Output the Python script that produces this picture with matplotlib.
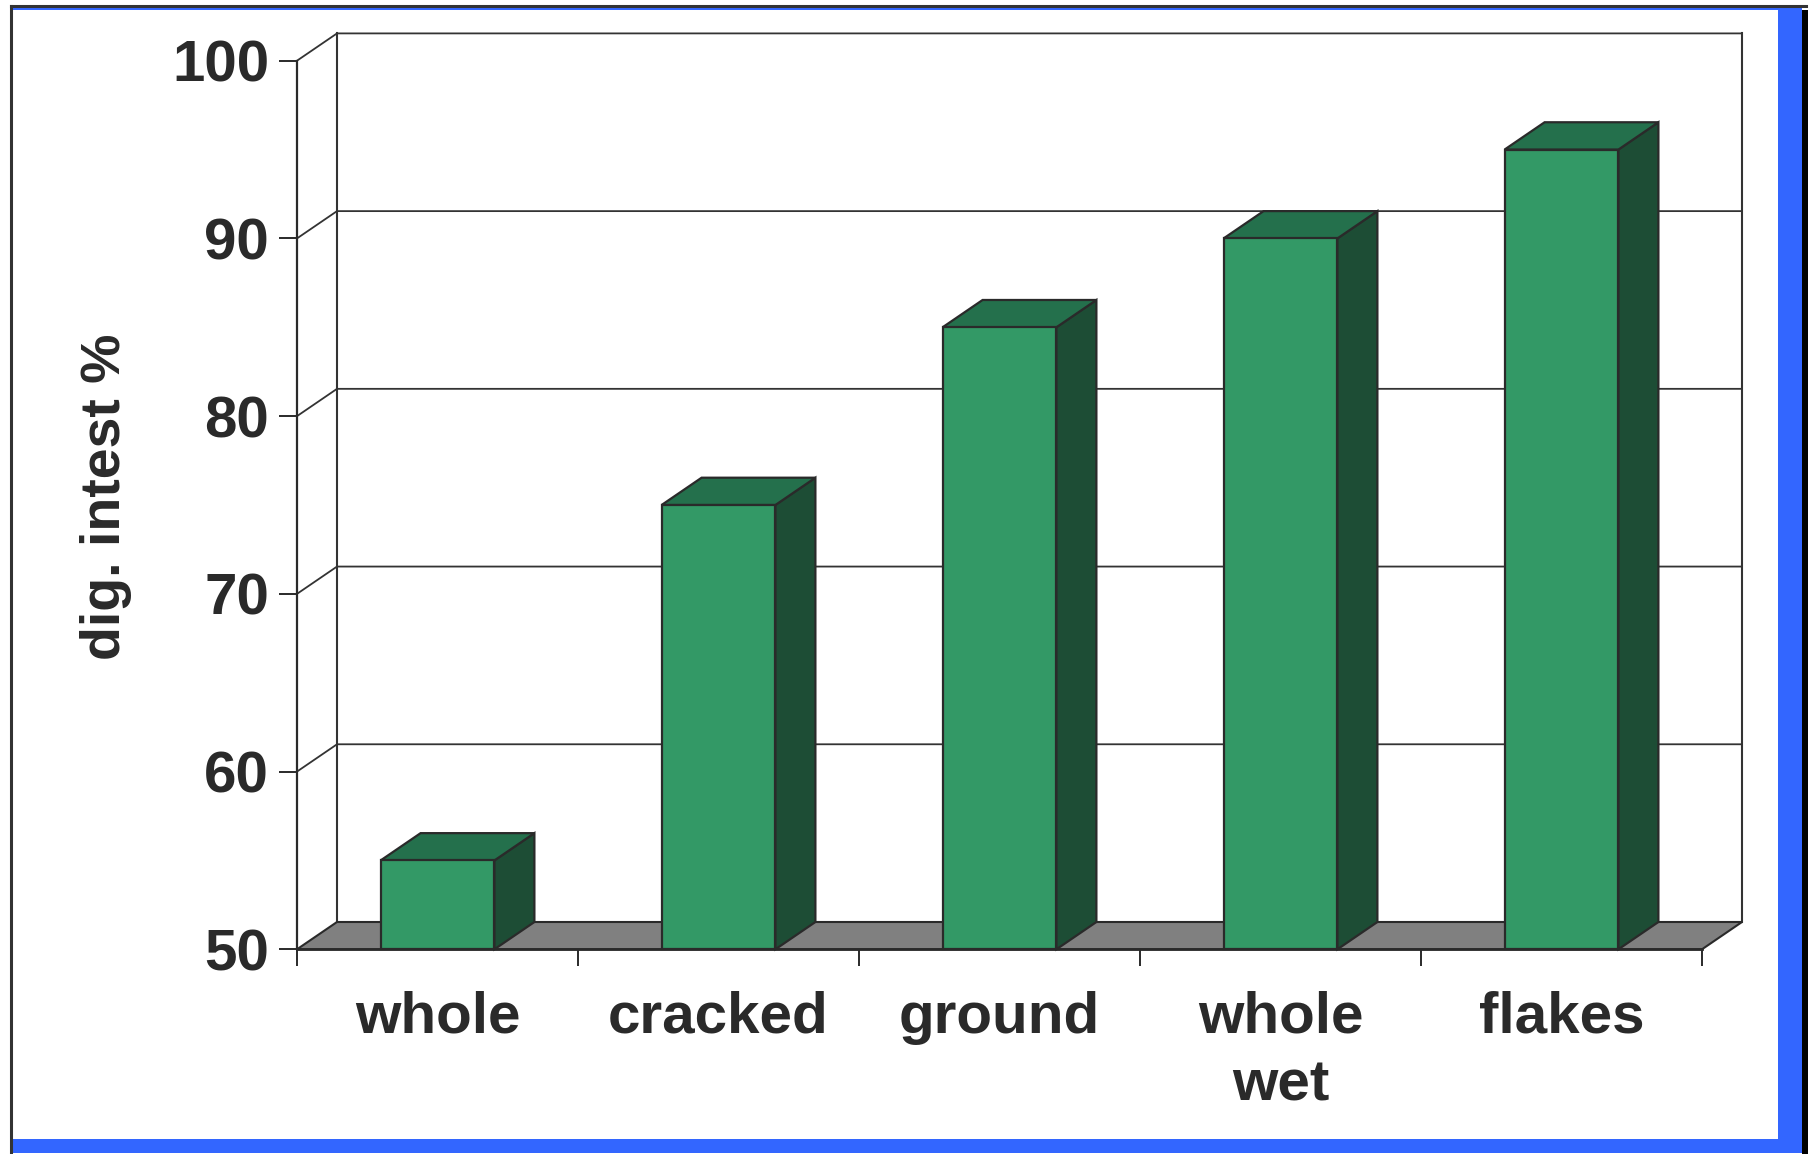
import matplotlib
matplotlib.use("Agg")
import matplotlib.pyplot as plt
from matplotlib.patches import Polygon, Rectangle
from matplotlib.lines import Line2D

# ---- data ----
categories = ["whole", "cracked", "ground", "whole\nwet", "flakes"]
values = [55, 75, 85, 90, 95]
yticks = [50, 60, 70, 80, 90, 100]
ylabel = "dig. intest %"

# ---- style ----
W, H = 1809, 1154
TXT = "#2a2a2a"
EDGE = "#2a2a2a"
FRONT = "#339966"
TOP = "#24704c"
SIDE = "#1d4d35"
FLOOR = "#808080"
BLUE = "#3366ff"
FS = 42
plt.rcParams['font.family'] = ['Liberation Sans', 'DejaVu Sans']

fig = plt.figure(figsize=(W / 100, H / 100), dpi=100)
fig.patch.set_facecolor("white")

def fx(x):
    return x / W

def fy(y):
    return 1 - y / H

# outer frame: blue band + black outline/shadow
fig.patches.append(Rectangle((fx(12), fy(1153)), fx(1802) - fx(12), fy(7) - fy(1153),
                             transform=fig.transFigure, fc=BLUE, ec="none", zorder=-3))
fig.patches.append(Rectangle((fx(12), fy(1139)), fx(1778) - fx(12), fy(10) - fy(1139),
                             transform=fig.transFigure, fc="white", ec="none", zorder=-2))
fig.patches.append(Rectangle((fx(1802), fy(1154)), fx(1808) - fx(1802), fy(10) - fy(1154),
                             transform=fig.transFigure, fc="black", ec="none", zorder=-2))
fig.lines.append(Line2D([fx(11), fx(1806)], [fy(6), fy(6)], transform=fig.transFigure,
                        color="#333333", lw=2.2, zorder=-1))
fig.lines.append(Line2D([fx(11), fx(11)], [fy(6), fy(1154)], transform=fig.transFigure,
                        color="#333333", lw=2.2, zorder=-1))

ax = fig.add_axes([fx(297), fy(949.3), (1702 - 297) / W, (949.3 - 60.7) / H])
ax.set_zorder(5)
ax.set_xlim(0, len(categories))
ax.set_ylim(yticks[0], yticks[-1])
ax.patch.set_visible(False)

n = len(categories)
DX = 40 / 281.0      # depth offset in x data units
DY = 27.3 / 17.77    # depth offset in y data units
BW = 0.405
base = yticks[0]

# back wall + side wall gridlines
for v in yticks[1:]:
    ax.plot([0, DX, n + DX], [v, v + DY, v + DY], color="#333333", lw=1.3,
            clip_on=False, zorder=1, solid_capstyle="butt")
for xx in [DX, n + DX]:
    ax.plot([xx, xx], [base + DY, yticks[-1] + DY], color="#333333", lw=1.5,
            clip_on=False, zorder=1)

# floor
ax.add_patch(Polygon([(0, base), (n, base), (n + DX, base + DY), (DX, base + DY)],
                     closed=True, fc=FLOOR, ec=EDGE, lw=1.5, clip_on=False, zorder=1.5))

# 3-D bars
for i, v in enumerate(values):
    x0 = i + 0.5 - BW / 2
    x1 = x0 + BW
    z = 3 + i
    ax.add_patch(Polygon([(x1, base), (x1 + DX, base + DY), (x1 + DX, v + DY), (x1, v)],
                         closed=True, fc=SIDE, ec=EDGE, lw=1.6, clip_on=False, zorder=z,
                         joinstyle="miter"))
    ax.add_patch(Polygon([(x0, v), (x1, v), (x1 + DX, v + DY), (x0 + DX, v + DY)],
                         closed=True, fc=TOP, ec=EDGE, lw=1.6, clip_on=False, zorder=z,
                         joinstyle="miter"))
    ax.add_patch(Rectangle((x0, base), BW, v - base, fc=FRONT, ec=EDGE, lw=1.6,
                           clip_on=False, zorder=z + 0.1, joinstyle="miter"))

# spines
for s in ["top", "right"]:
    ax.spines[s].set_visible(False)
ax.spines["left"].set_color(EDGE)
ax.spines["left"].set_linewidth(1.6)
ax.spines["bottom"].set_color(EDGE)
ax.spines["bottom"].set_linewidth(2.0)
ax.spines["bottom"].set_zorder(10)

# y ticks
ax.set_yticks(yticks)
ax.set_yticklabels([str(t) for t in yticks])
ax.tick_params(axis="y", which="major", direction="out", length=13, width=1.4,
               color=EDGE, pad=7, labelsize=FS, labelcolor=TXT)
for lab in ax.get_yticklabels():
    lab.set_fontweight("bold")

# x ticks: boundaries (major, no label), category labels on minor
ax.set_xticks(range(n + 1))
ax.set_xticklabels([""] * (n + 1))
ax.set_xticks([i + 0.5 for i in range(n)], minor=True)
ax.set_xticklabels(categories, minor=True)
ax.tick_params(axis="x", which="major", direction="out", length=12.5, width=1.4, color=EDGE)
ax.tick_params(axis="x", which="minor", length=0, pad=30, labelsize=FS, labelcolor=TXT)
for lab in ax.get_xticklabels(minor=True):
    lab.set_fontweight("bold")
    lab.set_linespacing(1.32)

fig.text(fx(106), fy(497), ylabel, rotation=90, ha="center", va="center",
         fontsize=40, fontweight="bold", color=TXT)

fig.savefig("out.png", dpi=100)
